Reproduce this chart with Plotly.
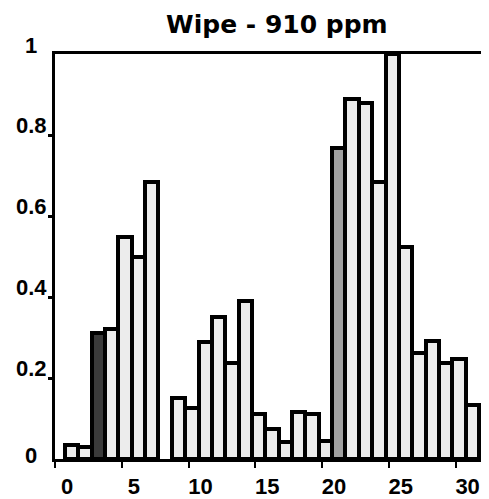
import plotly.graph_objects as go

# ---- data ----
bins = list(range(1, 33))
values = [0.034, 0.03, 0.31, 0.32, 0.548, 0.50, 0.685, None,
          0.15, 0.125, 0.29, 0.35, 0.237, 0.39, 0.11, 0.073,
          0.042, 0.117, 0.112, 0.044, 0.768, 0.89, 0.88, 0.685,
          1.0, 0.523, 0.262, 0.291, 0.237, 0.247, 0.134, 0.13]
x_ticks = [0, 5, 10, 15, 20, 25, 30]
y_ticks = [0, 0.2, 0.4, 0.6, 0.8, 1]
y_tick_labels = ["0", "0.2", "0.4", "0.6", "0.8", "1"]
title_text = "Wipe - 910 ppm"

fills = ["#ececec"] * len(values)
fills[2] = "#3a3a3a"
fills[20] = "#a0a0a0"
label_shift = [4, 10, 10, 10, 10, 9]

fig = go.Figure()
fig.add_trace(go.Bar(
    x=bins, y=values, width=1.0, offset=-0.25,
    marker=dict(color=fills, line=dict(color="black", width=4)),
))

for v, t, s in zip(y_ticks, y_tick_labels, label_shift):
    fig.add_annotation(x=-0.055, xref="paper", y=v, yref="y", text=t,
                       showarrow=False, xanchor="center", yanchor="middle",
                       yshift=s,
                       font=dict(family="Liberation Sans, Arial", size=22,
                                 color="black", weight="bold"))

# page body has an 8px margin: size the figure so it fits the window exactly
fig.update_layout(
    width=481, height=491,
    margin=dict(l=47, r=0, t=46, b=36),
    paper_bgcolor="white", plot_bgcolor="white",
    showlegend=False, bargap=0,
    title=dict(text=title_text, x=0.559, xanchor="center", y=0.967,
               yanchor="middle",
               font=dict(family="DejaVu Sans", size=25, color="black",
                         weight="bold")),
    xaxis=dict(range=[0, 32.5], tickvals=x_ticks,
               ticktext=[str(t) for t in x_ticks],
               showgrid=False, zeroline=False,
               showline=True, linecolor="black", linewidth=3, mirror=True,
               ticks="outside", ticklen=6, tickwidth=2, tickcolor="black",
               ticklabelshift=12, ticklabelstandoff=0,
               tickfont=dict(family="Liberation Sans, Arial", size=22,
                             color="black", weight="bold")),
    yaxis=dict(range=[0, 1], tickvals=[0.2, 0.4, 0.6, 0.8],
               showticklabels=False,
               showgrid=False, zeroline=False,
               showline=True, linecolor="black", linewidth=3, mirror=False,
               ticks="outside", ticklen=4, tickwidth=3, tickcolor="black"),
)

fig.write_html("out.html")
